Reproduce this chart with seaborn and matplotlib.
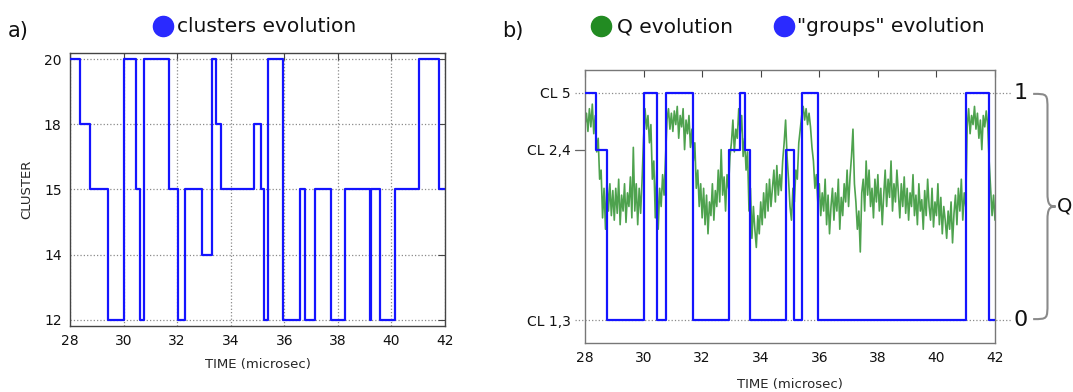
import numpy as np
import pandas as pd
import matplotlib
matplotlib.use("Agg")
import matplotlib.pyplot as plt
import seaborn as sns
from matplotlib.lines import Line2D
from matplotlib.path import Path
from matplotlib.patches import PathPatch
from matplotlib.transforms import blended_transform_factory

# ---------------- data ----------------
switch_times = [28.0, 28.385, 28.745, 29.43, 30.01, 30.45, 30.61, 30.75, 31.70,
                32.04, 32.31, 32.93, 33.29, 33.45, 33.64, 34.86, 35.12, 35.23,
                35.40, 35.96, 36.60, 36.78, 37.13, 37.76, 38.26, 39.19, 39.22,
                39.57, 40.12, 41.02, 41.79, 42.0]
cluster_values = [20, 18, 15, 12, 20, 15, 12, 20, 15,
                  12, 15, 14, 20, 18, 15, 18, 15, 12,
                  20, 12, 15, 12, 15, 12, 15, 12, 15,
                  12, 15, 20, 15, 15]
cluster_order = [12, 14, 15, 18, 20]
group_of_cluster = {20: 1.0, 18: 0.75, 14: 0.75, 15: 0.0, 12: 0.0}
group_ticks = [0.0, 0.75, 1.0]
group_labels = ["CL 1,3", "CL 2,4", "CL 5"]
x_ticks = [28, 30, 32, 34, 36, 38, 40, 42]

q_start, q_end = 28.0, 42.0
q_values = [
    # 28.00 - 28.95
    0.86, 0.91, 0.83, 0.93, 0.85, 0.95, 0.82, 0.90, 0.74, 0.80,
    0.62, 0.66, 0.45, 0.58, 0.40, 0.62, 0.48, 0.60, 0.46, 0.57,
    # 29.00 - 29.95
    0.44, 0.58, 0.47, 0.62, 0.42, 0.55, 0.48, 0.60, 0.43, 0.56,
    0.50, 0.63, 0.45, 0.76, 0.48, 0.60, 0.42, 0.58, 0.47, 0.62,
    # 30.00 - 30.95
    0.80, 0.93, 0.84, 0.90, 0.78, 0.86, 0.62, 0.70, 0.45, 0.66,
    0.40, 0.58, 0.50, 0.64, 0.55, 0.72, 0.88, 0.93, 0.84, 0.91,
    # 31.00 - 31.95
    0.83, 0.92, 0.86, 0.94, 0.80, 0.90, 0.85, 0.93, 0.75, 0.88,
    0.82, 0.90, 0.76, 0.84, 0.70, 0.78, 0.58, 0.66, 0.50, 0.60,
    # 32.00 - 32.95
    0.45, 0.58, 0.42, 0.55, 0.38, 0.52, 0.46, 0.60, 0.44, 0.57,
    0.50, 0.66, 0.52, 0.75, 0.55, 0.63, 0.48, 0.64, 0.58, 0.72,
    # 33.00 - 33.95
    0.78, 0.88, 0.74, 0.84, 0.80, 0.93, 0.82, 0.90, 0.72, 0.80,
    0.66, 0.74, 0.48, 0.58, 0.36, 0.50, 0.40, 0.32, 0.46, 0.38,
    # 34.00 - 34.95
    0.52, 0.42, 0.56, 0.45, 0.60, 0.48, 0.62, 0.50, 0.58, 0.66,
    0.52, 0.68, 0.55, 0.64, 0.57, 0.70, 0.78, 0.88, 0.72, 0.62,
    # 35.00 - 35.95
    0.50, 0.44, 0.58, 0.52, 0.66, 0.62, 0.78, 0.84, 0.90, 0.94,
    0.88, 0.93, 0.86, 0.91, 0.85, 0.76, 0.70, 0.58, 0.64, 0.52,
    # 36.00 - 36.95
    0.60, 0.46, 0.56, 0.48, 0.62, 0.42, 0.55, 0.38, 0.50, 0.58,
    0.44, 0.56, 0.48, 0.62, 0.40, 0.54, 0.46, 0.60, 0.52, 0.66,
    # 37.00 - 37.95
    0.50, 0.63, 0.72, 0.84, 0.60, 0.52, 0.40, 0.48, 0.30, 0.56,
    0.62, 0.48, 0.70, 0.55, 0.66, 0.50, 0.58, 0.45, 0.62, 0.52,
    # 38.00 - 38.95
    0.64, 0.48, 0.58, 0.42, 0.55, 0.66, 0.50, 0.62, 0.54, 0.70,
    0.48, 0.60, 0.52, 0.66, 0.56, 0.45, 0.60, 0.50, 0.63, 0.47,
    # 39.00 - 39.95
    0.58, 0.44, 0.56, 0.50, 0.64, 0.46, 0.55, 0.42, 0.60, 0.48,
    0.53, 0.40, 0.57, 0.46, 0.62, 0.50, 0.44, 0.58, 0.41, 0.52,
    # 40.00 - 40.95
    0.46, 0.60, 0.42, 0.54, 0.38, 0.50, 0.44, 0.36, 0.48, 0.40,
    0.52, 0.34, 0.47, 0.55, 0.42, 0.58, 0.48, 0.62, 0.44, 0.56,
    # 41.00 - 41.95
    0.50, 0.85, 0.93, 0.82, 0.90, 0.86, 0.94, 0.84, 0.91, 0.80,
    0.88, 0.75, 0.90, 0.85, 0.92, 0.86, 0.70, 0.58, 0.46, 0.55,
    # 42.00
    0.44,
]

# ---------------- style ----------------
BLUE = "#1414ff"
GREEN = "#228B22"
FRAME = "#444444"
GRID = "#8a8a8a"

sns.set_style("white")
plt.rcParams["font.family"] = ["DejaVu Sans"]
plt.rcParams["text.color"] = "#111111"
plt.rcParams["xtick.labelcolor"] = "#111111"
plt.rcParams["ytick.labelcolor"] = "#111111"

fig = plt.figure(figsize=(10.73, 3.92), dpi=100)
W, H = 1073.0, 392.0
axL = fig.add_axes([70 / W, 1 - 326 / H, 375 / W, 273 / H])
axR = fig.add_axes([585 / W, 1 - 343 / H, 410 / W, 273 / H])

df = pd.DataFrame({"time": switch_times, "cluster": cluster_values})
df["level"] = df["cluster"].map({c: i for i, c in enumerate(cluster_order)})
df["group"] = df["cluster"].map(group_of_cluster)
q_df = pd.DataFrame({"time": np.linspace(q_start, q_end, len(q_values)),
                     "q": q_values})

# ---------------- left panel ----------------
sns.lineplot(data=df, x="time", y="level", drawstyle="steps-post", color=BLUE,
             lw=1.6, ax=axL, estimator=None, sort=False, zorder=3)
axL.set_xlim(28, 42)
axL.set_ylim(-0.1, 4.1)
axL.set_xticks(x_ticks)
axL.set_yticks(range(len(cluster_order)))
axL.set_yticklabels([str(c) for c in cluster_order])
axL.grid(True, ls=":", color=GRID, lw=0.9)
axL.tick_params(direction="in", length=5, top=True, right=True, labelsize=10,
                color=FRAME, pad=6)
axL.set_xlabel("TIME (microsec)", fontsize=9.5, labelpad=7)
axL.set_ylabel("CLUSTER", fontsize=9.5, labelpad=8)
for s in axL.spines.values():
    s.set_color(FRAME)
    s.set_linewidth(1.0)

# ---------------- right panel ----------------
sns.lineplot(data=q_df, x="time", y="q", color=GREEN, lw=1.2, alpha=0.8,
             ax=axR, estimator=None, sort=False, zorder=2)
sns.lineplot(data=df, x="time", y="group", drawstyle="steps-post", color=BLUE,
             lw=1.6, ax=axR, estimator=None, sort=False, zorder=3)
axR.set_xlim(28, 42)
axR.set_ylim(-0.1, 1.1)
axR.set_xticks(x_ticks)
axR.set_yticks(group_ticks)
axR.set_yticklabels(group_labels)
axR.tick_params(axis="x", direction="in", length=5, top=True, labelsize=10,
                color=FRAME, pad=6)
axR.tick_params(axis="y", length=0, labelsize=10, pad=10)
axR.set_xlabel("TIME (microsec)", fontsize=9.5, labelpad=9)
axR.set_ylabel("")
for s in axR.spines.values():
    s.set_color("#777777")
    s.set_linewidth(1.0)

bt = blended_transform_factory(axR.transAxes, axR.transData)
for v in (0.0, 1.0):
    axR.plot([-0.024, 1.041], [v, v], transform=bt, ls=":", color=GRID,
             lw=0.9, clip_on=False, zorder=1)
axR.plot([-0.024, 0.0], [0.75, 0.75], transform=bt, color="#666666",
         lw=0.9, clip_on=False)
axR.text(1.063, 1.0, "1", transform=bt, ha="center", va="center", fontsize=16)
axR.text(1.063, 0.0, "0", transform=bt, ha="center", va="center", fontsize=16)

# curly brace
x0, x1, xt = 1.093, 1.128, 1.148
yt, yb, ym = 0.995, 0.005, 0.5
verts = [
    (x0, yt), (x1, yt), (x1, yt), (x1, yt - 0.07),
    (x1, ym + 0.06),
    (x1, ym + 0.01), (x1 + 0.005, ym), (xt, ym),
    (x1 + 0.005, ym), (x1, ym - 0.01), (x1, ym - 0.06),
    (x1, yb + 0.07),
    (x1, yb), (x1, yb), (x0, yb),
]
codes = [Path.MOVETO, Path.CURVE4, Path.CURVE4, Path.CURVE4,
         Path.LINETO,
         Path.CURVE4, Path.CURVE4, Path.CURVE4,
         Path.CURVE4, Path.CURVE4, Path.CURVE4,
         Path.LINETO,
         Path.CURVE4, Path.CURVE4, Path.CURVE4]
brace = PathPatch(Path(verts, codes), fill=False, edgecolor="#8a8a8a", lw=1.5,
                  transform=bt, clip_on=False)
axR.add_patch(brace)
axR.text(1.1505, 0.5, "Q", transform=bt, ha="left", va="center", fontsize=14)

# ---------------- legends / panel letters ----------------
fig.text(8 / W, 1 - 37 / H, "a)", fontsize=15, va="baseline", ha="left")
fig.text(502 / W, 1 - 37 / H, "b)", fontsize=15, va="baseline", ha="left")

def legend_item(xm, xt_, label, color):
    fig.add_artist(Line2D([xm / W], [1 - 25.5 / H], marker="o", ls="",
                          markersize=14.5, color=color,
                          transform=fig.transFigure))
    fig.text(xt_ / W, 1 - 32.5 / H, label, fontsize=14.5, va="baseline",
             ha="left")

legend_item(163.5, 177, "clusters evolution", "#2a2aff")
legend_item(601, 617, "Q evolution", GREEN)
legend_item(784, 797, "\"groups\" evolution", "#2a2aff")

fig.savefig("out.png", dpi=100)
